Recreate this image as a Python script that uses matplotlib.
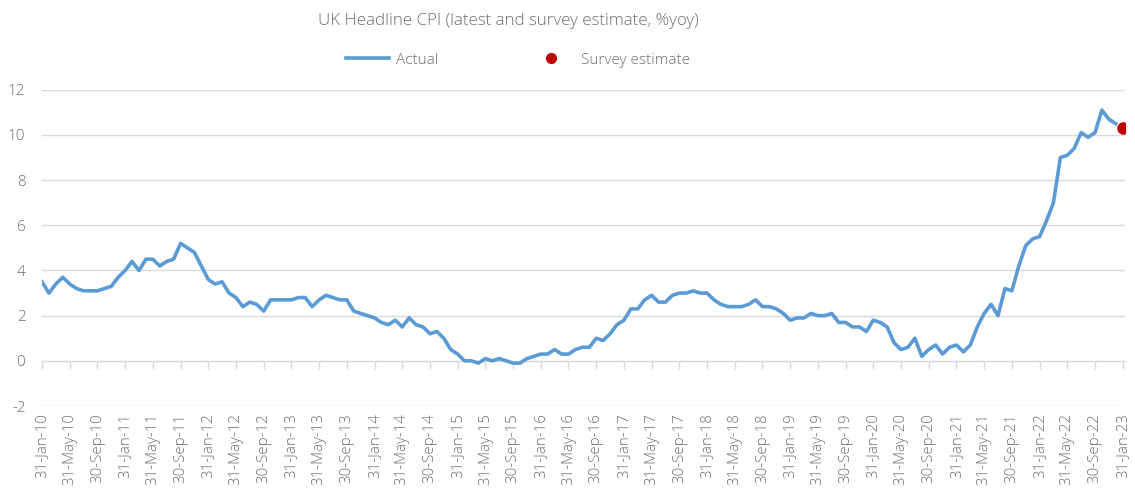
"""UK headline CPI, latest and survey estimate."""

import matplotlib

matplotlib.use("Agg")
import matplotlib.pyplot as plt
import numpy as np
import pandas as pd
from matplotlib.lines import Line2D

# monthly CPI %yoy, Jan 2010 .. Dec 2022
cpi_2010 = [3.5, 3.0, 3.4, 3.7, 3.4, 3.2, 3.1, 3.1, 3.1, 3.2, 3.3, 3.7]
cpi_2011 = [4.0, 4.4, 4.0, 4.5, 4.5, 4.2, 4.4, 4.5, 5.2, 5.0, 4.8, 4.2]
cpi_2012 = [3.6, 3.4, 3.5, 3.0, 2.8, 2.4, 2.6, 2.5, 2.2, 2.7, 2.7, 2.7]
cpi_2013 = [2.7, 2.8, 2.8, 2.4, 2.7, 2.9, 2.8, 2.7, 2.7, 2.2, 2.1, 2.0]
cpi_2014 = [1.9, 1.7, 1.6, 1.8, 1.5, 1.9, 1.6, 1.5, 1.2, 1.3, 1.0, 0.5]
cpi_2015 = [0.3, 0.0, 0.0, -0.1, 0.1, 0.0, 0.1, 0.0, -0.1, -0.1, 0.1, 0.2]
cpi_2016 = [0.3, 0.3, 0.5, 0.3, 0.3, 0.5, 0.6, 0.6, 1.0, 0.9, 1.2, 1.6]
cpi_2017 = [1.8, 2.3, 2.3, 2.7, 2.9, 2.6, 2.6, 2.9, 3.0, 3.0, 3.1, 3.0]
cpi_2018 = [3.0, 2.7, 2.5, 2.4, 2.4, 2.4, 2.5, 2.7, 2.4, 2.4, 2.3, 2.1]
cpi_2019 = [1.8, 1.9, 1.9, 2.1, 2.0, 2.0, 2.1, 1.7, 1.7, 1.5, 1.5, 1.3]
cpi_2020 = [1.8, 1.7, 1.5, 0.8, 0.5, 0.6, 1.0, 0.2, 0.5, 0.7, 0.3, 0.6]
cpi_2021 = [0.7, 0.4, 0.7, 1.5, 2.1, 2.5, 2.0, 3.2, 3.1, 4.2, 5.1, 5.4]
cpi_2022 = [5.5, 6.2, 7.0, 9.0, 9.1, 9.4, 10.1, 9.9, 10.1, 11.1, 10.7, 10.5]

actual = (
    cpi_2010 + cpi_2011 + cpi_2012 + cpi_2013 + cpi_2014 + cpi_2015 + cpi_2016
    + cpi_2017 + cpi_2018 + cpi_2019 + cpi_2020 + cpi_2021 + cpi_2022
)
survey_estimate = 10.3  # Jan 2023

dates = pd.date_range("2010-01-31", periods=len(actual) + 1, freq="ME")
tick_labels = [d.strftime("%d-%b-%y") for d in dates[::4]]
y_ticks = [-2, 0, 2, 4, 6, 8, 10, 12]

BLUE = "#5B9BD5"
RED = "#C00000"
GRID = "#D9D9D9"
TEXT = "#6F6F6F"
FONT = "Open Sans"

plt.rcParams["font.family"] = [FONT, "DejaVu Sans"]
plt.rcParams["font.weight"] = "light"

fig = plt.figure(figsize=(11.35, 4.88), dpi=100)
ax = fig.add_axes([0.037, 0.168, 0.954, 0.648])

x = np.arange(len(actual))
ax.plot(x, actual, color=BLUE, lw=2.6, solid_joinstyle="round", zorder=3)
ax.plot([len(actual)], [survey_estimate], "o", color=RED, ms=8, zorder=4)

ax.set_xlim(0, len(actual) + 0.3)
ax.set_ylim(-2, 12)
ax.set_yticks(y_ticks)
ax.set_yticklabels([str(v) for v in y_ticks])
ax.yaxis.grid(True, color=GRID, lw=1)
ax.set_axisbelow(True)
for s in ax.spines.values():
    s.set_visible(False)

tick_pos = np.arange(0, len(actual) + 1, 4)
ax.set_xticks(tick_pos)
ax.set_xticklabels(tick_labels, rotation=90, va="top", ha="center")
ax.tick_params(axis="x", length=0, pad=5, labelsize=10.8, labelcolor=TEXT)
ax.tick_params(axis="y", length=0, pad=12, labelsize=11, labelcolor=TEXT)

# axis line with tick marks at zero
zero_ax = ax.secondary_xaxis(0, transform=ax.transData)
zero_ax.set_xticks(tick_pos)
zero_ax.set_xticklabels([])
zero_ax.tick_params(axis="x", direction="out", length=6, width=1, color=GRID)
zero_ax.spines["bottom"].set_color(GRID)

fig.text(0.448, 0.957, "UK Headline CPI (latest and survey estimate, %yoy)",
         ha="center", va="center", fontsize=12.2, color=TEXT)

handles = [
    Line2D([], [], color=BLUE, lw=2.6),
    Line2D([], [], color=RED, marker="o", ls="none", ms=7),
]
fig.legend(handles, ["Actual", "Survey estimate"], loc="center",
           bbox_to_anchor=(0.456, 0.877), ncol=2, frameon=False,
           fontsize=11.1, labelcolor=TEXT, handlelength=2.8,
           handletextpad=0.5, columnspacing=5.9)

fig.savefig("out.png", dpi=100)
